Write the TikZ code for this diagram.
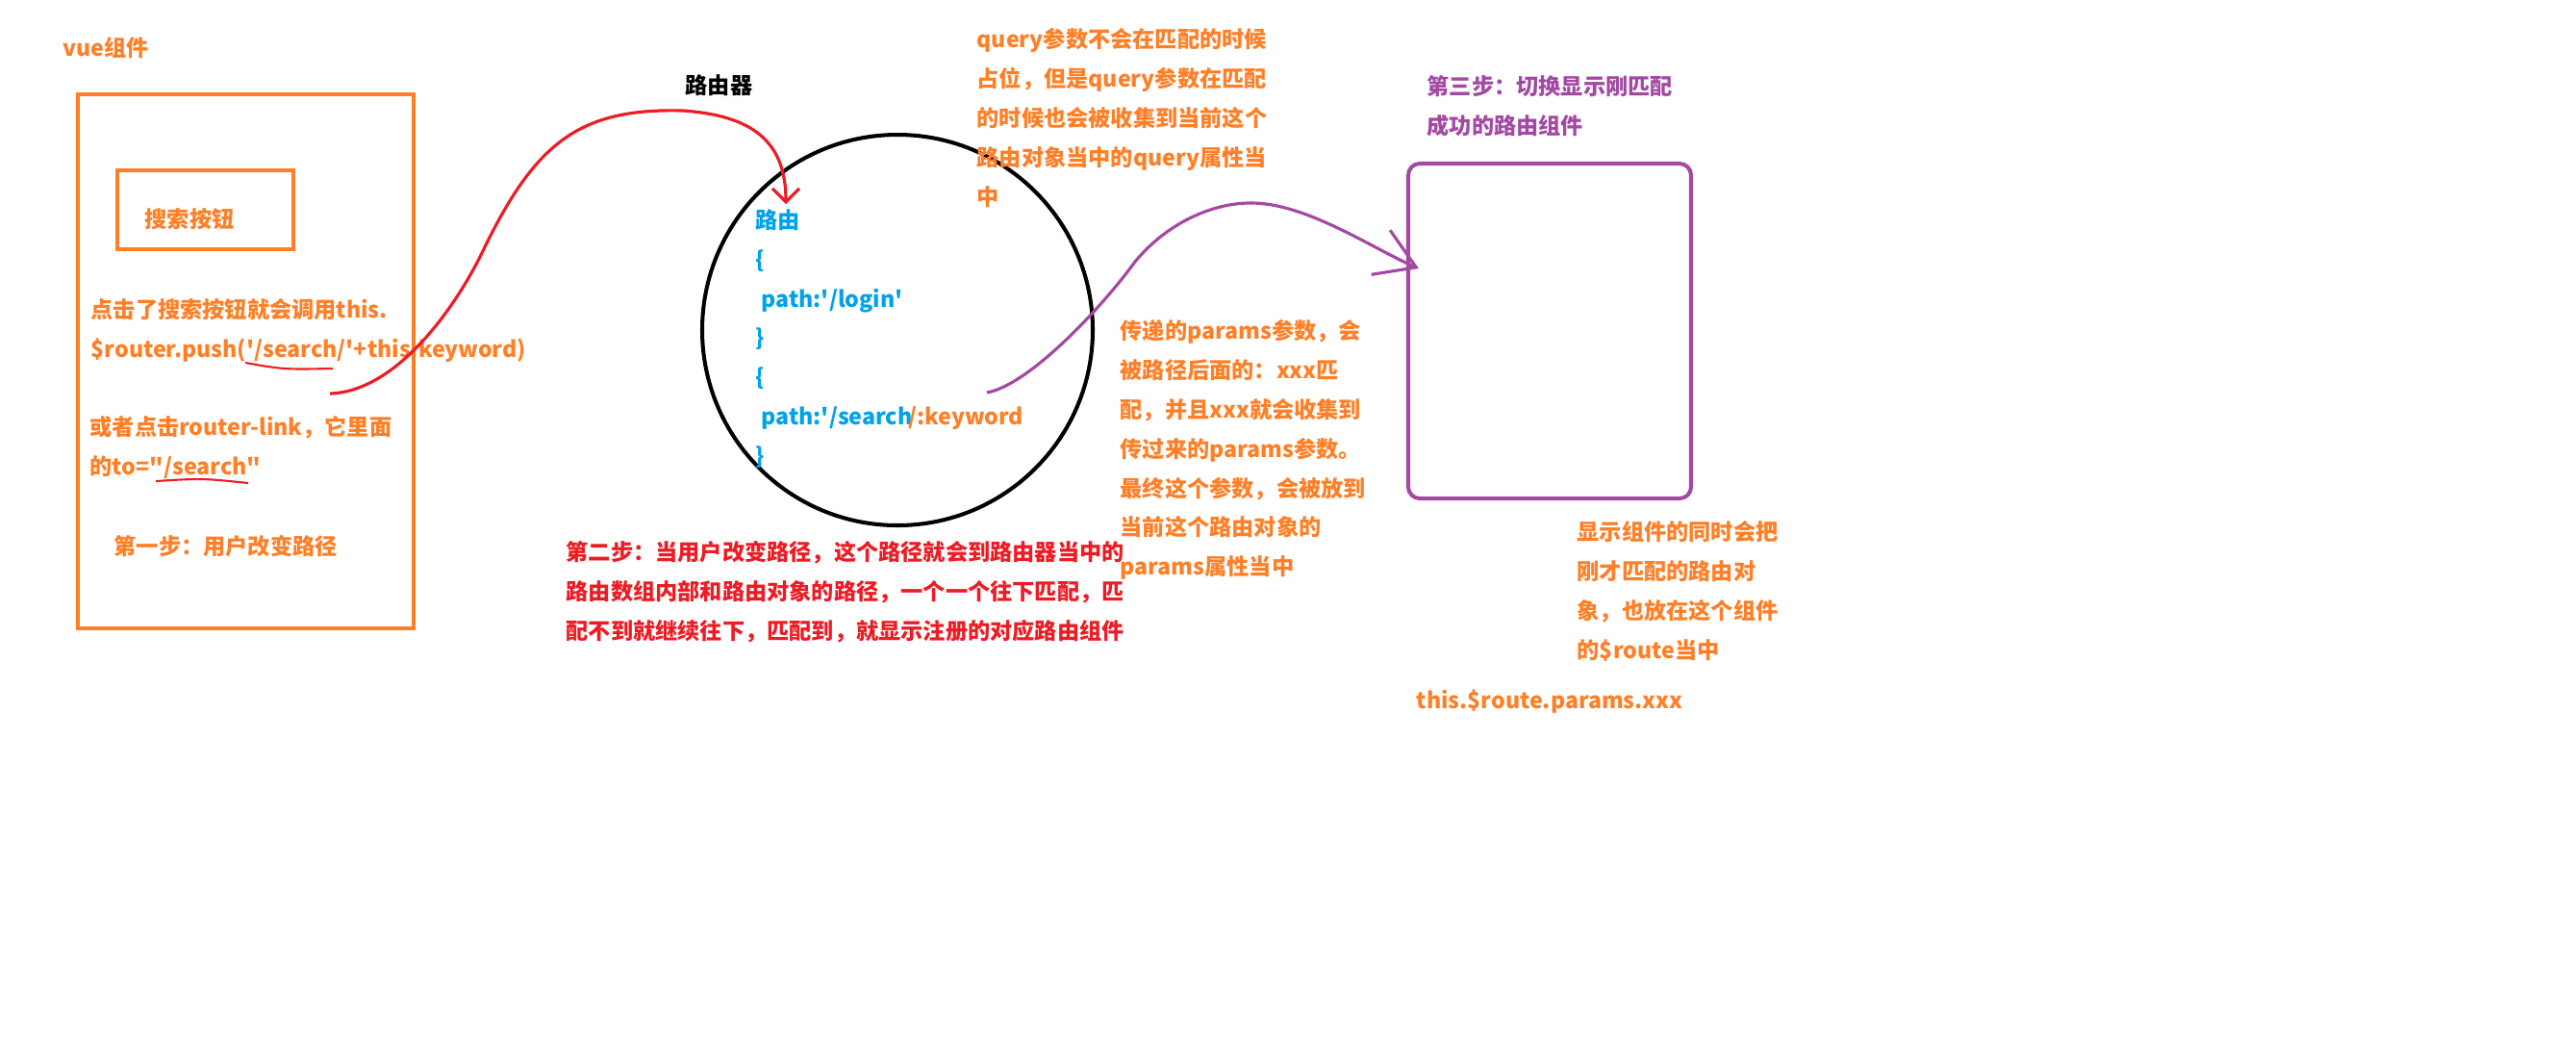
\documentclass[tikz,border=0pt]{standalone}
\usepackage{fontspec}
\newfontfamily\cjkfont{Noto Sans CJK SC}
\usetikzlibrary{arrows.meta}
\definecolor{vueorange}{RGB}{255,127,39}
\definecolor{stepred}{RGB}{237,28,36}
\definecolor{viewpurple}{RGB}{163,73,164}
\definecolor{routeblue}{RGB}{0,162,232}

\begin{document}
\begin{tikzpicture}[x=1cm,y=-1cm,
	txt/.style = {anchor=west, inner sep=0pt, text=vueorange, font=\cjkfont\bfseries\fontsize{6.6}{11.6}\selectfont},
	multi txt/.style = {txt, anchor=north west, align=left},
	orange box/.style = {draw=vueorange, line width=1.15pt, inner sep=0pt},
	view box/.style = {draw=viewpurple, line width=1.15pt, rounded corners=0.12cm, inner sep=0pt},
	red line/.style = {draw=stepred, line width=0.9pt},
	purple line/.style = {draw=viewpurple, line width=0.9pt}]

	\useasboundingbox (0,0) rectangle (26.78,10.84);

	\node[txt] (vue label) at (0.65,0.50) {vue组件};
	\node[orange box, minimum width=3.49cm, minimum height=5.55cm] (vue) at (2.555,3.755) {};
	\node[orange box, minimum width=1.83cm, minimum height=0.82cm] (btn) at (2.135,2.18) {};
	\node[txt] (btn text) at (1.50,2.28) {搜索按钮};
	\node[multi txt] (click) at (0.94,3.10) {点击了搜索按钮就会调用this.\\\$router.push('/search/'+this.keyword)};
	\node[multi txt] (link) at (0.93,4.32) {或者点击router-link，它里面\\的to="/search"};
	\node[txt] (step1) at (1.18,5.68) {第一步：用户改变路径};

	\node[txt, text=black] (router label) at (7.12,0.89) {路由器};
	\node[circle, draw, line width=1.15pt, minimum size=4.06cm] (router) at (9.33,3.43) {};
	\node[multi txt, text=routeblue] (routes) at (7.85,2.17) {路由\\\{\\\hspace{0.6mm}path:'/login'\\\}\\\{\\\hspace{0.6mm}path:'/search\kern-1.2pt{\color{vueorange}/:keyword}\\\}};
	\node[multi txt, text=stepred] (step2) at (5.88,5.62) {第二步：当用户改变路径，这个路径就会到路由器当中的\\路由数组内部和路由对象的路径，一个一个往下匹配，匹\\配不到就继续往下，匹配到，就显示注册的对应路由组件};

	\node[multi txt] (query note) at (10.15,0.29) {query参数不会在匹配的时候\\占位，但是query参数在匹配\\的时候也会被收集到当前这个\\路由对象当中的query属性当\\中};
	\node[multi txt] (params note) at (11.64,3.32) {传递的params参数，会\\被路径后面的：xxx匹\\配，并且xxx就会收集到\\传过来的params参数。\\最终这个参数，会被放到\\当前这个路由对象的\\params属性当中};

	\node[multi txt, text=viewpurple] (step3) at (14.83,0.78) {第三步：切换显示刚匹配\\成功的路由组件};
	\node[view box, minimum width=2.94cm, minimum height=3.48cm] (view) at (16.11,3.44) {};
	\node[multi txt] (route note) at (16.39,5.41) {显示组件的同时会把\\刚才匹配的路由对\\象，也放在这个组件\\的\$route当中};
	\node[txt] (route params) at (14.72,7.29) {this.\$route.params.xxx};

	\coordinate (push tail) at (3.43,4.09);
	\coordinate (router head) at (8.17,2.12);
	\coordinate (view tail) at (10.26,4.08);
	\coordinate (view head) at (14.75,2.79);

	\draw[stepred, line width=0.6pt] (2.55,3.77) .. controls (2.95,3.84) .. (3.46,3.83);
	\draw[stepred, line width=0.6pt] (1.62,5.00) .. controls (2.10,4.97) .. (2.58,5.02);

	\path[red line, -{Straight Barb[length=1.4mm,width=2.8mm]}] (push tail) .. controls (4.1,4.07) and (4.7,3.25) .. (5.00,2.65) .. controls (5.55,1.5) and (6.0,1.12) .. (7.10,1.15) .. controls (7.8,1.2) and (8.17,1.45) .. (router head);
	\path[purple line, -{Straight Barb[length=4mm,width=5mm]}] (view tail) .. controls (10.7,4.0) and (11.45,3.2) .. (11.80,2.72) .. controls (12.12,2.33) and (12.6,2.1) .. (13.03,2.11) .. controls (13.6,2.12) and (14.3,2.6) .. (view head);

\end{tikzpicture}
\end{document}
